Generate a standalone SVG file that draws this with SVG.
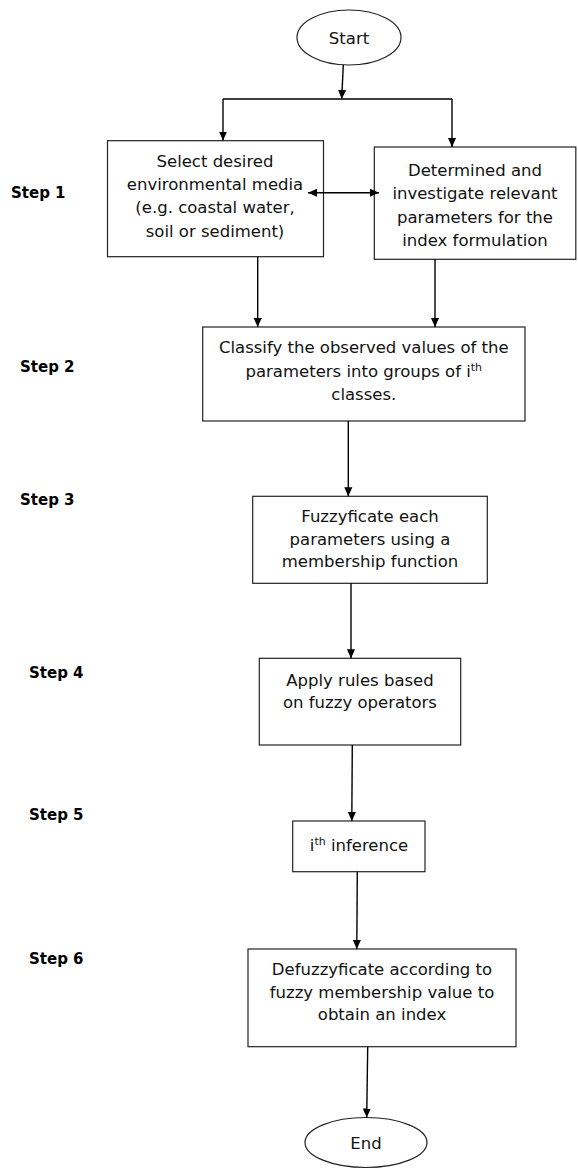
<svg xmlns="http://www.w3.org/2000/svg" width="578" height="1169" viewBox="0 0 578 1169">
<style>
.box{fill:#fff;stroke:#222;stroke-width:1.2}
.t{font-family:"DejaVu Sans",Verdana,sans-serif;font-size:16.5px;fill:#111;text-anchor:middle}
.s{font-family:"DejaVu Sans",Verdana,sans-serif;font-size:15px;font-weight:bold;fill:#000}
.c{stroke:#000;stroke-width:1.4;fill:none}
.a{marker-end:url(#ah)}
</style>
<defs>
<marker id="ah" viewBox="0 0 10 10" refX="10" refY="5" markerWidth="9" markerHeight="9" markerUnits="userSpaceOnUse" orient="auto"><path d="M0,0.5 L10,5 L0,9.5 Z" fill="#000"/></marker>
<marker id="as" viewBox="0 0 10 10" refX="0" refY="5" markerWidth="9" markerHeight="9" markerUnits="userSpaceOnUse" orient="auto"><path d="M10,0.5 L0,5 L10,9.5 Z" fill="#000"/></marker>
</defs>
<rect width="578" height="1169" fill="#fff"/>
<g id="start">
<ellipse class="box" cx="349" cy="37.5" rx="52" ry="27.5"/>
<text class="t" x="349" y="43.5">Start</text>
</g>
<g id="step1-media">
<rect class="box" x="107.5" y="140.7" width="216" height="116"/>
<text class="t" x="215" y="166.7">Select desired</text>
<text class="t" x="215" y="190">environmental media</text>
<text class="t" x="215" y="213.3">(e.g. coastal water,</text>
<text class="t" x="215" y="236.7">soil or sediment)</text>
</g>
<g id="step1-params">
<rect class="box" x="374.3" y="147" width="201.5" height="112.3"/>
<text class="t" x="475" y="175.5">Determined and</text>
<text class="t" x="475" y="199">investigate relevant</text>
<text class="t" x="475" y="222.5">parameters for the</text>
<text class="t" x="475" y="246">index formulation</text>
</g>
<g id="step2">
<rect class="box" x="202.7" y="327" width="322.3" height="94"/>
<text class="t" x="363.8" y="353">Classify the observed values of the</text>
<text class="t" x="363.8" y="376.7">parameters into groups of i<tspan font-size="11" dy="-6">th</tspan></text>
<text class="t" x="363.8" y="400">classes.</text>
</g>
<g id="step3">
<rect class="box" x="252.7" y="496.3" width="234.6" height="87"/>
<text class="t" x="370" y="521.7">Fuzzyficate each</text>
<text class="t" x="370" y="544.5">parameters using a</text>
<text class="t" x="370" y="567">membership function</text>
</g>
<g id="step4">
<rect class="box" x="259.3" y="658.3" width="201.4" height="86.7"/>
<text class="t" x="360" y="685.5">Apply rules based</text>
<text class="t" x="360" y="708">on fuzzy operators</text>
</g>
<g id="step5">
<rect class="box" x="292.7" y="821" width="132.3" height="50.7"/>
<text class="t" x="359" y="851">i<tspan font-size="11" dy="-6">th</tspan><tspan dy="6"> inference</tspan></text>
</g>
<g id="step6">
<rect class="box" x="248" y="949" width="268" height="97.7"/>
<text class="t" x="382" y="975">Defuzzyficate according to</text>
<text class="t" x="382" y="997.5">fuzzy membership value to</text>
<text class="t" x="382" y="1020">obtain an index</text>
</g>
<g id="end">
<ellipse class="box" cx="366" cy="1142.5" rx="61" ry="25"/>
<text class="t" x="366" y="1149">End</text>
</g>
<g id="connectors">
<line class="c a" x1="343.3" y1="65" x2="341.7" y2="99"/>
<line class="c" x1="223" y1="99" x2="452" y2="99"/>
<line class="c a" x1="223" y1="99" x2="223" y2="140.5"/>
<line class="c a" x1="452" y1="99" x2="452" y2="147"/>
<line class="c a" x1="308" y1="192.7" x2="379" y2="192.7" marker-start="url(#as)"/>
<line class="c a" x1="257.7" y1="256.7" x2="257.7" y2="327"/>
<line class="c a" x1="435" y1="259.3" x2="435" y2="327"/>
<line class="c a" x1="348.3" y1="421" x2="348.3" y2="496.3"/>
<line class="c a" x1="351" y1="583.3" x2="351" y2="658.3"/>
<line class="c a" x1="352.3" y1="745" x2="351.8" y2="821"/>
<line class="c a" x1="357.3" y1="871.7" x2="356.8" y2="949"/>
<line class="c a" x1="367.7" y1="1046.7" x2="366.7" y2="1117.5"/>
</g>
<g id="step-labels">
<text class="s" x="11" y="198">Step 1</text>
<text class="s" x="20" y="372">Step 2</text>
<text class="s" x="20" y="505">Step 3</text>
<text class="s" x="29" y="678">Step 4</text>
<text class="s" x="29" y="820">Step 5</text>
<text class="s" x="29" y="964">Step 6</text>
</g>
</svg>
